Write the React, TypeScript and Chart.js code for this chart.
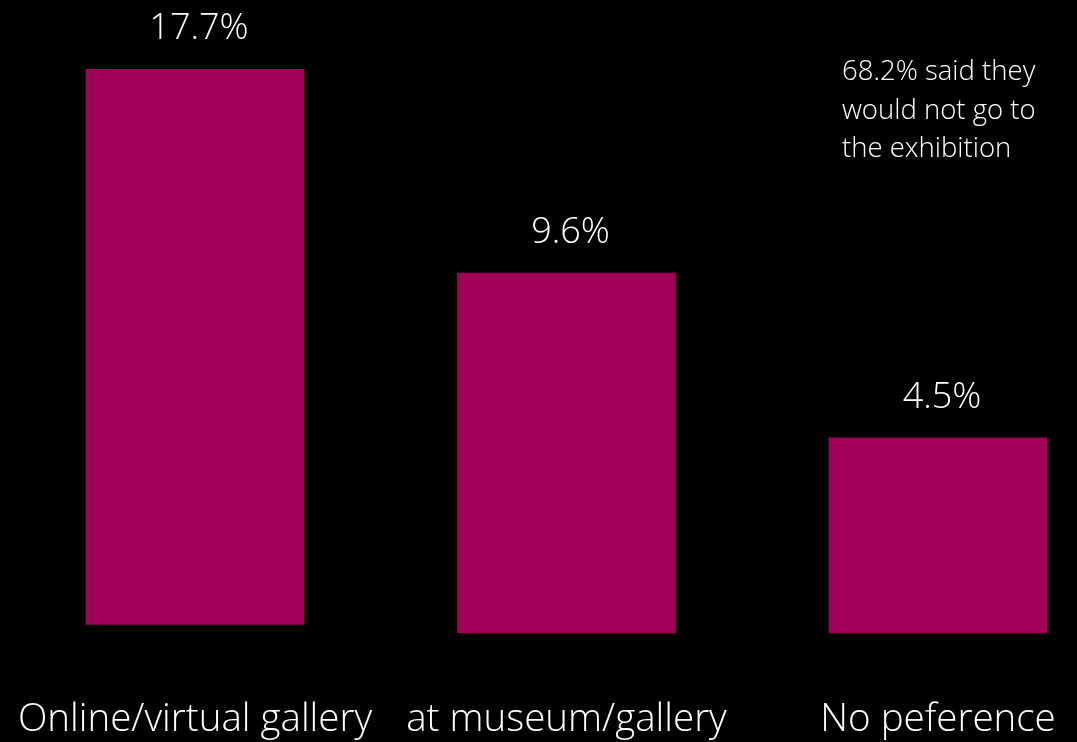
import React, { useEffect, useRef } from "react";
import { Chart, registerables } from "chart.js";

Chart.register(...registerables);

// Categories and values
const categories = ["Online/virtual gallery", "at museum/gallery", "No peference"];
const valueLabels = ["17.7%", "9.6%", "4.5%"];
// Drawn bar extents as they appear in the picture (hidden axis units)
const barBase = [0.2, 0, 0];
const barTop = [13.0, 8.3, 4.5];
const noteLines = ["68.2% said they", "would not go to", "the exhibition"];

const BAR_COLOR = "#A10056";
const FONT = "'Open Sans', 'Noto Sans', sans-serif";

const textPlugin = {
  id: "textPlugin",
  afterDatasetsDraw(chart: any) {
    const ctx = chart.ctx;
    const meta = chart.getDatasetMeta(0);
    const area = chart.chartArea;
    ctx.save();
    ctx.fillStyle = "#ffffff";
    ctx.textAlign = "center";
    ctx.textBaseline = "alphabetic";
    meta.data.forEach((bar: any, i: number) => {
      ctx.font = `300 36px ${FONT}`;
      ctx.fillText(valueLabels[i], bar.x + 4, bar.y - 30);
      ctx.font = `300 38.5px ${FONT}`;
      ctx.fillText(categories[i], bar.x, area.bottom + 98);
    });
    ctx.textAlign = "left";
    ctx.font = `300 27.5px ${FONT}`;
    noteLines.forEach((line, i) => {
      ctx.fillText(line, 842, 80 + i * 38.5);
    });
    ctx.restore();
  },
};

export default function App() {
  const canvasRef = useRef<HTMLCanvasElement | null>(null);

  useEffect(() => {
    document.body.style.margin = "0";
    document.body.style.background = "#000000";
    const canvas = canvasRef.current;
    if (!canvas) return;
    const chart = new Chart(canvas, {
      type: "bar",
      data: {
        labels: categories,
        datasets: [
          {
            data: barBase.map((b, i) => [b, barTop[i]]),
            backgroundColor: BAR_COLOR,
            borderWidth: 0,
            barThickness: 218,
            clip: false as any,
          },
        ],
      },
      options: {
        animation: false,
        responsive: true,
        maintainAspectRatio: false,
        layout: { padding: { left: 195, right: 139, top: 26, bottom: 109 } },
        plugins: {
          legend: { display: false },
          tooltip: { enabled: false },
        },
        scales: {
          x: { display: false, offset: false },
          y: { display: false, min: 0, max: 14 },
        },
      },
      plugins: [textPlugin],
    });
    return () => chart.destroy();
  }, []);

  return (
    <div
      style={{
        position: "fixed",
        left: 0,
        top: 0,
        width: 1077,
        height: 742,
        background: "#000000",
      }}
    >
      <canvas ref={canvasRef} />
    </div>
  );
}
